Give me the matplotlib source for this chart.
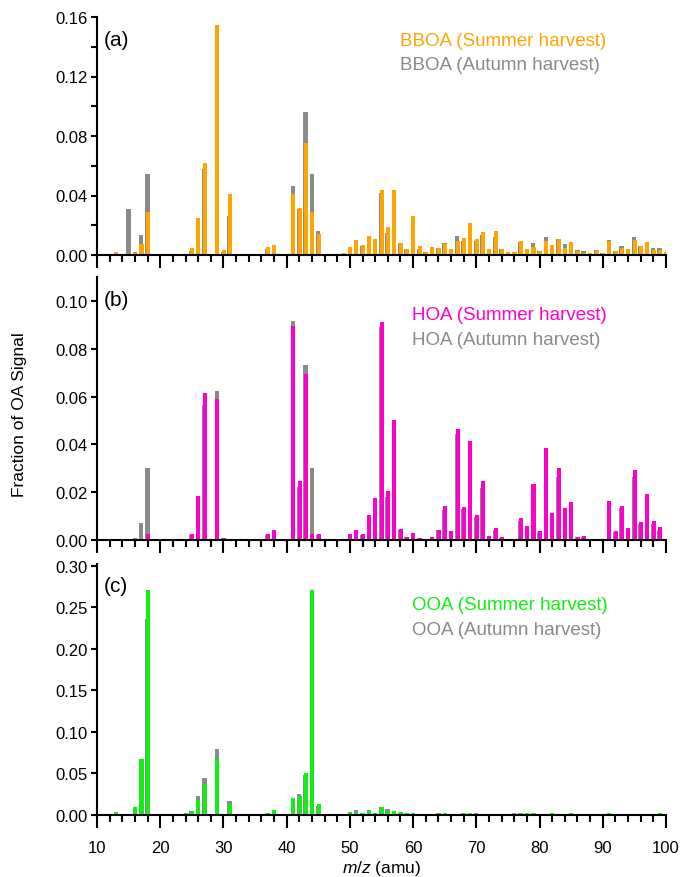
import numpy as np
import matplotlib
matplotlib.use("Agg")
import matplotlib.pyplot as plt
from matplotlib.ticker import MultipleLocator

plt.rcParams['font.family'] = ['Liberation Sans', 'DejaVu Sans']
plt.rcParams['mathtext.fontset'] = 'custom'
plt.rcParams['mathtext.it'] = 'Liberation Sans:italic'
plt.rcParams['mathtext.rm'] = 'Liberation Sans'

# m/z 12..100
mz = np.arange(12, 101)

bboa_summer = [
    0.0005, 0.0022, 0, 0.0005, 0.0015, 0.0072, 0.029, 0, 0, 0,
    0, 0, 0.0005, 0.0045, 0.025, 0.0617, 0, 0.1545, 0.0032, 0.041,
    0, 0, 0, 0, 0, 0.0054, 0.007, 0, 0, 0.041,
    0.0313, 0.0753, 0.029, 0.014, 0, 0, 0.0009, 0.0011, 0.0056, 0.0099,
    0.007, 0.0126, 0.011, 0.044, 0.019, 0.0434, 0.0083, 0.0038, 0.0259, 0.006,
    0.0023, 0.0056, 0.0047, 0.0077, 0.0038, 0.0094, 0.0117, 0.0214, 0.011, 0.0153,
    0.0043, 0.016, 0.004, 0.0023, 0.0023, 0.0092, 0.0038, 0.0054, 0.0029, 0.0092,
    0.007, 0.011, 0.0045, 0.009, 0.0027, 0.0016, 0.0011, 0.0034, 0.0016, 0.0097,
    0.0029, 0.0047, 0.0043, 0.0101, 0.0063, 0.009, 0.0032, 0.0032, 0.002,
]
bboa_autumn = [
    0, 0.001, 0, 0.031, 0.002, 0.0133, 0.0542, 0, 0, 0,
    0, 0, 0.0003, 0.003, 0.0167, 0.058, 0, 0.105, 0.002, 0.0263,
    0, 0, 0, 0, 0, 0.0038, 0.0065, 0, 0, 0.0461,
    0.031, 0.096, 0.0544, 0.0162, 0, 0, 0.0008, 0.001, 0.0047, 0.0079,
    0.006, 0.012, 0.0092, 0.0414, 0.0146, 0.030, 0.008, 0.0038, 0.0189, 0.0043,
    0.0023, 0.0045, 0.0045, 0.0083, 0.0038, 0.0126, 0.0094, 0.0207, 0.0094, 0.0137,
    0.0043, 0.0124, 0.0038, 0.0023, 0.002, 0.0088, 0.0038, 0.0083, 0.0029, 0.0124,
    0.007, 0.0106, 0.0072, 0.0083, 0.0032, 0.0029, 0.0011, 0.0034, 0.0014, 0.0104,
    0.0027, 0.0063, 0.0043, 0.0122, 0.0061, 0.0088, 0.005, 0.0047, 0.0018,
]
hoa_summer = [
    0.0003, 0.0003, 0, 0.0003, 0.0004, 0.0006, 0.0024, 0, 0, 0,
    0, 0, 0.0004, 0.0027, 0.0182, 0.0615, 0, 0.0591, 0.001, 0.0003,
    0, 0, 0, 0, 0, 0.0024, 0.0042, 0, 0, 0.0896,
    0.0248, 0.0696, 0.0024, 0.0024, 0, 0, 0.0003, 0.0003, 0.0024, 0.0043,
    0.0024, 0.0104, 0.0176, 0.091, 0.0206, 0.050, 0.0045, 0.0013, 0.0028, 0.0008,
    0.0004, 0.0014, 0.0042, 0.0141, 0.0039, 0.0463, 0.0137, 0.0416, 0.0106, 0.0245,
    0.0015, 0.0049, 0.0011, 0.0006, 0.0006, 0.009, 0.0057, 0.0234, 0.0038, 0.0385,
    0.0113, 0.0302, 0.0132, 0.0161, 0.0014, 0.0015, 0, 0.0006, 0, 0.0165,
    0.0038, 0.0143, 0.0052, 0.0294, 0.0077, 0.0193, 0.008, 0.0053, 0.0006,
]
hoa_autumn = [
    0.0002, 0.0002, 0, 0.0003, 0.0008, 0.0073, 0.030, 0, 0, 0,
    0, 0, 0.0003, 0.0021, 0.0139, 0.0563, 0, 0.0622, 0.0008, 0.0002,
    0, 0, 0, 0, 0, 0.002, 0.004, 0, 0, 0.0917,
    0.0223, 0.0732, 0.0301, 0.002, 0, 0, 0.0002, 0.0002, 0.0021, 0.0038,
    0.0022, 0.0101, 0.017, 0.089, 0.0178, 0.0472, 0.0042, 0.0012, 0.0026, 0.0007,
    0.0004, 0.0013, 0.004, 0.0125, 0.0036, 0.0444, 0.0128, 0.0395, 0.0095, 0.0218,
    0.0013, 0.004, 0.001, 0.0005, 0.0005, 0.0078, 0.005, 0.0211, 0.0033, 0.0372,
    0.0106, 0.0265, 0.0106, 0.0155, 0.0012, 0.0013, 0, 0.0005, 0, 0.0144,
    0.0033, 0.0134, 0.0047, 0.0265, 0.0068, 0.0172, 0.0069, 0.0043, 0.0005,
]
ooa_summer = [
    0.001, 0.004, 0.0005, 0.0005, 0.010, 0.0674, 0.271, 0, 0, 0,
    0, 0, 0.002, 0.0044, 0.018, 0.0373, 0, 0.067, 0.001, 0.0128,
    0, 0, 0, 0, 0, 0.003, 0.0056, 0, 0, 0.0204,
    0.0229, 0.050, 0.271, 0.0132, 0, 0, 0.001, 0.0005, 0.004, 0.004,
    0.003, 0.005, 0.003, 0.0096, 0.0044, 0.0044, 0.0036, 0.002, 0.002, 0.001,
    0.001, 0.0012, 0.0024, 0.002, 0.0012, 0.0016, 0.002, 0.0024, 0.0016, 0.0016,
    0.0012, 0.0012, 0.0012, 0.0012, 0.0016, 0.002, 0.0024, 0.002, 0.0016, 0.0012,
    0.002, 0.001, 0.0016, 0.002, 0.001, 0.001, 0.0008, 0.001, 0.001, 0.0024,
    0.001, 0.001, 0.001, 0.001, 0.0012, 0.0012, 0.0016, 0.002, 0.001,
]
ooa_autumn = [
    0.001, 0.003, 0.0005, 0.0005, 0.009, 0.058, 0.236, 0, 0, 0,
    0, 0, 0.0015, 0.0048, 0.0225, 0.045, 0, 0.080, 0.001, 0.0172,
    0, 0, 0, 0, 0, 0.003, 0.006, 0, 0, 0.0196,
    0.025, 0.048, 0.236, 0.011, 0, 0, 0.001, 0.0005, 0.004, 0.0056,
    0.003, 0.0064, 0.003, 0.0096, 0.0068, 0.005, 0.003, 0.003, 0.0028, 0.001,
    0.001, 0.0016, 0.002, 0.0016, 0.0016, 0.0012, 0.0028, 0.002, 0.0028, 0.0012,
    0.0016, 0.0016, 0.0012, 0.0012, 0.002, 0.0028, 0.002, 0.0016, 0.0016, 0.0016,
    0.0016, 0.0012, 0.0012, 0.0016, 0.001, 0.001, 0.0012, 0.001, 0.001, 0.002,
    0.001, 0.001, 0.001, 0.001, 0.0016, 0.0016, 0.0012, 0.0016, 0.001,
]

gray = '#8a8a8a'
panels = [
    ('(a)', 'BBOA', bboa_summer, bboa_autumn, '#FFA500', (0, 0.16), 0.04, 0.02, 400),
    ('(b)', 'HOA', hoa_summer, hoa_autumn, '#FF00CC', (0, 0.11), 0.02, None, 412),
    ('(c)', 'OOA', ooa_summer, ooa_autumn, '#11EE11', (0, 0.302), 0.05, None, 412),
]
# axes boxes in pixels: (bottom, top)
boxes = [(256, 18), (541, 278), (816, 565)]

W, H = 686, 878
fig = plt.figure(figsize=(W / 100, H / 100), dpi=100)

for (label, name, summer, autumn, color, ylim, ymaj, ymin, tx), (yb, yt) in zip(panels, boxes):
    ax = fig.add_axes([97 / W, 1 - yb / H, (666 - 97) / W, (yb - yt) / H])
    ax.bar(mz - 0.02, autumn, width=0.7, color=gray, linewidth=0, zorder=2)
    ax.bar(mz + 0.04, summer, width=0.64, color=color, linewidth=0, zorder=3)
    ax.set_xlim(10, 100)
    ax.set_ylim(*ylim)
    for s in ['top', 'right']:
        ax.spines[s].set_visible(False)
    for s in ['left', 'bottom']:
        ax.spines[s].set_linewidth(1.5)
        ax.spines[s].set_zorder(4)
    ax.xaxis.set_major_locator(MultipleLocator(10))
    ax.xaxis.set_minor_locator(MultipleLocator(2))
    ax.yaxis.set_major_locator(MultipleLocator(ymaj))
    if ymin:
        ax.yaxis.set_minor_locator(MultipleLocator(ymin))
    ax.yaxis.set_major_formatter(lambda v, p: f"{v:.2f}")
    ax.tick_params(axis='x', which='major', length=9, width=1.5, direction='out', pad=9, labelsize=12)
    ax.tick_params(axis='x', which='minor', length=5, width=1.5, direction='out')
    ax.tick_params(axis='y', which='both', length=4, width=1.5, direction='out', pad=3, labelsize=12)
    if label != '(c)':
        ax.tick_params(axis='x', which='both', labelbottom=False)

    fig.text(104 / W, 1 - (yt + 22) / H, label, fontsize=15, va='center', ha='left')
    ty = yt + 23 if label == '(a)' else yt + 38
    if label == '(c)':
        ty = yt + 41
    fig.text(tx / W, 1 - ty / H, f"{name} (Summer harvest)", color=color, fontsize=13.5,
             va='center', ha='left')
    fig.text(tx / W, 1 - (ty + 24.5) / H, f"{name} (Autumn harvest)", color=gray, fontsize=13.5,
             va='center', ha='left')

fig.text(20 / W, 1 - 415 / H, "Fraction of OA Signal", rotation=90, fontsize=12.5,
         va='center', ha='center')
fig.text(382 / W, 1 - 869 / H, r"$m/z$ (amu)", fontsize=12.5, va='center', ha='center')

fig.savefig("out.png", dpi=100)
